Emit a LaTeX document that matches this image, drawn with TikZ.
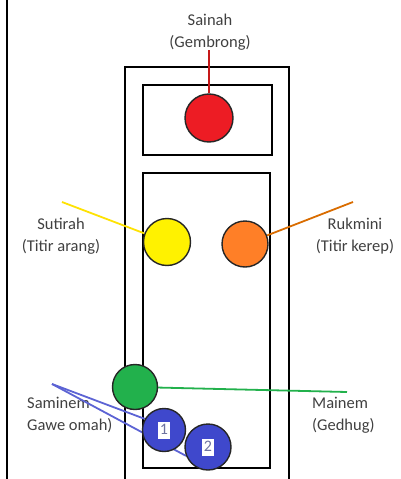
\documentclass[tikz,border=0pt]{standalone}
\usepackage{fontspec}
\setmainfont{Carlito}
\usetikzlibrary{backgrounds}

\definecolor{lampred}{RGB}{237,28,36}
\definecolor{lampyellow}{RGB}{255,242,0}
\definecolor{lamporange}{RGB}{255,127,39}
\definecolor{lampgreen}{RGB}{34,177,76}
\definecolor{lampblue}{RGB}{63,72,204}
\definecolor{digitgray}{RGB}{110,115,160}

\newcommand{\lampnumber}[1]{{\setlength{\fboxsep}{1.5pt}\colorbox{white}{\color{digitgray}\fontsize{16}{16}\selectfont\rule[-3pt]{0pt}{14pt}#1}}}

\tikzset{
  lamp/.style={circle, draw=black!85, line width=1.4pt, inner sep=0pt, minimum size=#1},
  caption/.style={text=black!75, font=\fontsize{16.5}{22}\selectfont, inner sep=0pt},
  frame/.style={line width=1.9pt},
  leader/.style={line width=1.8pt}
}

\begin{document}
\begin{tikzpicture}[x=1pt,y=-1pt]
  \useasboundingbox (0,0) rectangle (401,479);

  % the lamps
  \node[lamp=48pt, fill=lampred] (sainah) at (209,118) {};
  \node[lamp=47pt, fill=lampyellow] (sutirah) at (167,242) {};
  \node[lamp=46pt, fill=lamporange] (rukmini) at (245,244) {};
  \node[lamp=45pt, fill=lampgreen] (mainem) at (135,387) {};
  \node[lamp=46pt, fill=lampblue] (saminem2) at (208,447) {\lampnumber{2}};
  \node[lamp=43pt, fill=lampblue] (saminem1) at (164,430) {\lampnumber{1}};

  % names
  \node[caption, align=center] (sainahtxt) at (210,32) {Sainah\\(Gembrong)};
  \node[caption, align=center] (sutirahtxt) at (61,236) {Sutirah\\(Titir arang)};
  \node[caption, align=center] (rukminitxt) at (355,236) {Rukmini\\(Titir kerep)};
  \node[caption, align=left, anchor=west] (mainemtxt) at (312,415) {Mainem\\(Gedhug)};

  % ends of the leader lines
  \coordinate (sainahend) at (209,50);
  \coordinate (sutirahend) at (62,202);
  \coordinate (rukminiend) at (353,202);
  \coordinate (mainemend) at (347,392);
  \coordinate (saminemend) at (52,384);

  \begin{scope}[on background layer]
    % frame on the left
    \draw[frame] (7,0) -- (7,479);
    % outer box, open at the bottom
    \draw[frame] (125,479) -- (125,67) -- (289,67) -- (289,479);
    % two inner boxes
    \draw[frame] (143,85) rectangle (272,155);
    \draw[frame] (143,173) rectangle (270,468);
    % this name sits under the blue lines
    \node[caption, align=left, anchor=west] (saminemtxt) at (27,415) {Saminem\\Gawe omah)};
  \end{scope}

  % leader lines, under the lamps
  \begin{scope}[on background layer]
    \draw[leader, color=red!75!black!90] (sainahend) -- (sainah);
    \draw[leader, color=yellow!85!orange] (sutirahend) -- (sutirah);
    \draw[leader, color=orange!85!black] (rukminiend) -- (rukmini);
    \draw[leader, color=lampgreen] (mainem) -- (mainemend);
    \draw[leader, color=lampblue!85] (saminemend) -- (saminem1.150);
    \draw[leader, color=lampblue!85] (saminemend) -- (saminem2.202);
  \end{scope}
\end{tikzpicture}
\end{document}
